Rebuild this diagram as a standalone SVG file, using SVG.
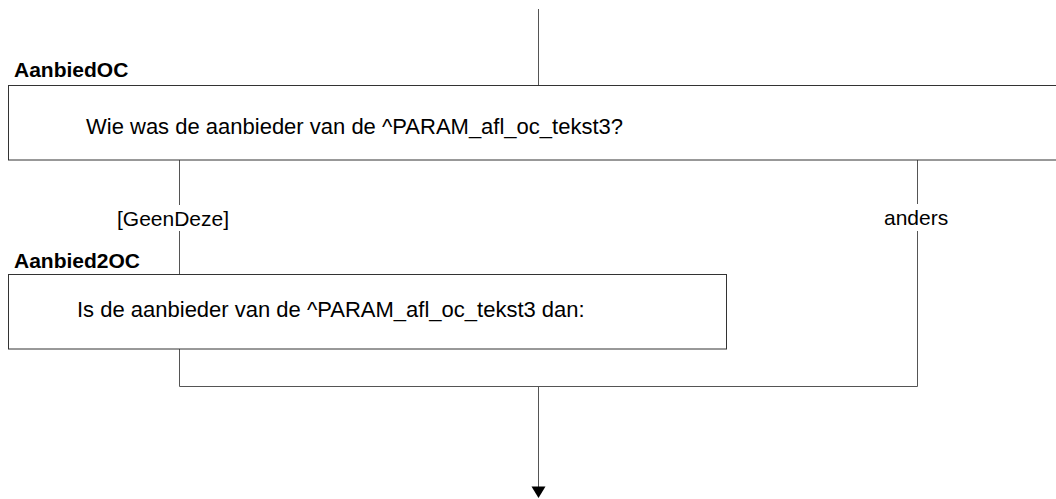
<svg xmlns="http://www.w3.org/2000/svg" width="1056" height="499" viewBox="0 0 1056 499">
<style>
.box{fill:#fff;stroke:#333;stroke-width:1}
.ln{fill:none;stroke:#555;stroke-width:1}
.t{font-family:"Liberation Sans",Arial,sans-serif;font-size:21px;fill:#000}
.q{font-size:22px}
.b{font-weight:bold}
</style>
<g id="connectors">
<line class="ln" x1="538.5" y1="9" x2="538.5" y2="85"/>
<line class="ln" x1="179.5" y1="160" x2="179.5" y2="205"/>
<line class="ln" x1="179.5" y1="231" x2="179.5" y2="274"/>
<text class="t" x="117" y="226">[GeenDeze]</text>
<line class="ln" x1="917.5" y1="160" x2="917.5" y2="204"/>
<line class="ln" x1="917.5" y1="231" x2="917.5" y2="386.5"/>
<text class="t" x="884" y="225">anders</text>
<polyline class="ln" points="179.5,349 179.5,386.5 917.5,386.5"/>
<line class="ln" x1="538.5" y1="386.5" x2="538.5" y2="487"/>
<polygon points="531.5,486.5 545.5,486.5 538.5,498" fill="#000"/>
</g>
<g id="AanbiedOC">
<text class="t b" x="14" y="77">AanbiedOC</text>
<rect class="box" x="8.5" y="85.5" width="1060" height="74.5"/>
<text class="t q" x="86" y="134">Wie was de aanbieder van de ^PARAM_afl_oc_tekst3?</text>
</g>
<g id="Aanbied2OC">
<text class="t b" x="14" y="268">Aanbied2OC</text>
<rect class="box" x="8.5" y="274.5" width="718" height="74.5"/>
<text class="t q" x="77" y="317">Is de aanbieder van de ^PARAM_afl_oc_tekst3 dan:</text>
</g>
</svg>
